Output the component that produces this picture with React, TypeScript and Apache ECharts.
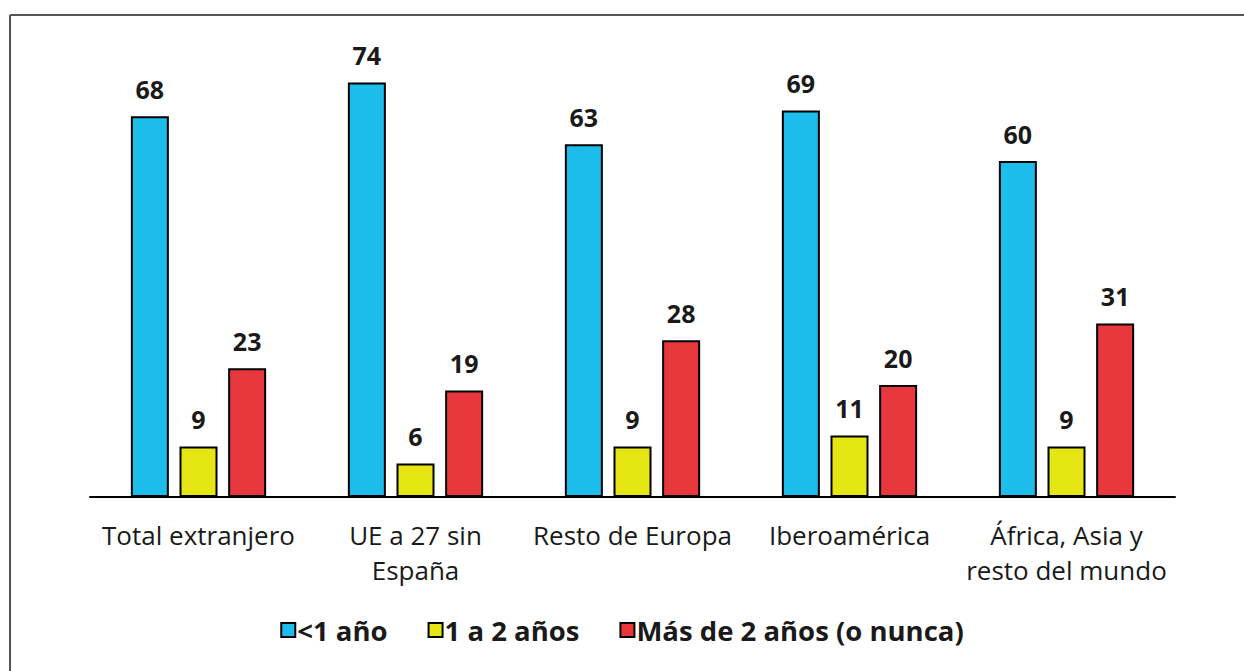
import React, { useEffect, useRef } from "react";
import * as echarts from "echarts";

const categories = [
  "Total extranjero",
  "UE a 27 sin\nEspaña",
  "Resto de Europa",
  "Iberoamérica",
  "África, Asia y\nresto del mundo",
];
const seriesNames = ["<1 año", "1 a 2 años", "Más de 2 años (o nunca)"];
const lessThanOne = [68, 74, 63, 69, 60];
const oneToTwo = [9, 6, 9, 11, 9];
const moreThanTwo = [23, 19, 28, 20, 31];
const colors = ["#1DBDEB", "#E6E614", "#E8383D"];

export default function App() {
  const ref = useRef<HTMLDivElement>(null);
  useEffect(() => {
    const chart = echarts.init(ref.current!, null, { renderer: "svg" });
    const data = [lessThanOne, oneToTwo, moreThanTwo];
    chart.setOption({
      animation: false,
      backgroundColor: "#ffffff",
      textStyle: { fontFamily: "Open Sans" },
      grid: { left: 90, right: 69, top: 49, bottom: 174 },
      xAxis: {
        type: "category",
        data: categories,
        axisLine: { lineStyle: { color: "#000", width: 2 } },
        axisTick: { show: false },
        axisLabel: {
          color: "#1a1a1a",
          fontFamily: "Open Sans",
          fontSize: 26,
          lineHeight: 35,
          margin: 20,
          interval: 0,
        },
      },
      yAxis: { type: "value", min: 0, max: 80, show: false },
      legend: {
        bottom: 22,
        left: "center",
        itemWidth: 14,
        itemHeight: 14,
        itemGap: 40,
        textStyle: {
          fontFamily: "Open Sans",
          fontSize: 27.5,
          fontWeight: "bold",
          color: "#1a1a1a",
          padding: [0, 0, 0, -3],
        },
        icon: "rect",
        data: seriesNames,
      },
      graphic: [
        { type: "line", shape: { x1: 10, y1: 15, x2: 1244, y2: 15 }, style: { stroke: "#555", lineWidth: 2 } },
        { type: "line", shape: { x1: 10, y1: 15, x2: 10, y2: 671 }, style: { stroke: "#555", lineWidth: 2 } },
      ],
      series: seriesNames.map((name, i) => ({
        name,
        type: "bar",
        data: data[i],
        barWidth: 38,
        barGap: "28%",
        itemStyle: { color: colors[i], borderColor: "#000", borderWidth: 2 },
        label: {
          show: true,
          position: "top",
          distance: 15,
          fontFamily: "Open Sans",
          fontSize: 25,
          fontWeight: "bold",
          color: "#1a1a1a",
        },
      })),
    });
    return () => chart.dispose();
  }, []);
  return (
    <div
      ref={ref}
      style={{ position: "fixed", left: 0, top: 0, width: 1244, height: 671 }}
    />
  );
}
